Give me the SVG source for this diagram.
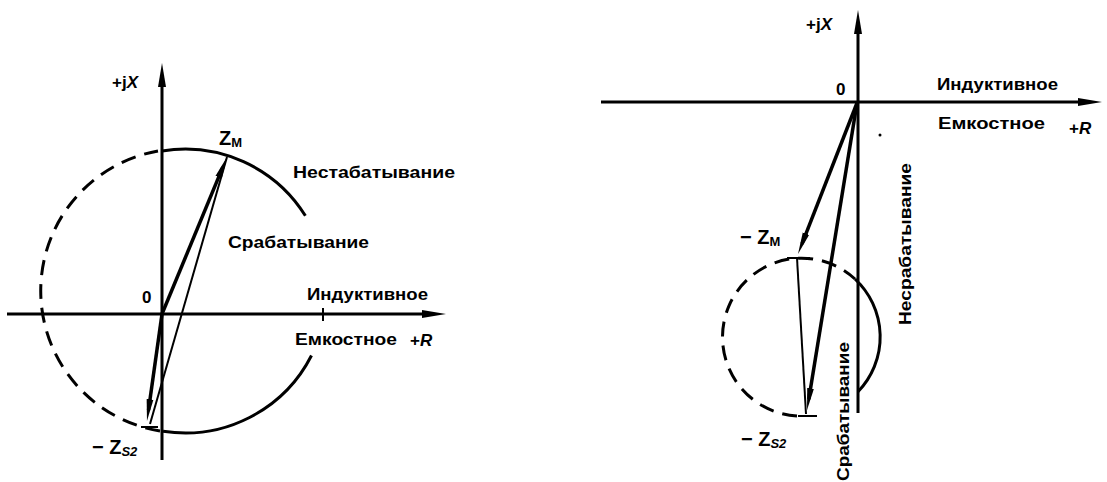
<svg xmlns="http://www.w3.org/2000/svg" width="1107" height="482" viewBox="0 0 1107 482">
<style>
.ax{stroke:#000;stroke-width:3;fill:none}
.vec{stroke:#000;stroke-width:3.5;fill:none}
.thin{stroke:#000;stroke-width:2;fill:none}
.arc{stroke:#000;stroke-width:3;fill:none}
.dash{stroke:#000;stroke-width:3;fill:none;stroke-dasharray:15 9}
.t{font-family:"Liberation Sans",Arial,sans-serif;font-weight:bold;font-size:17px;fill:#000}
.n{font-family:"Liberation Sans",Arial,sans-serif;font-weight:bold;font-size:17px;fill:#000}
.z{font-family:"Liberation Sans",Arial,sans-serif;font-weight:bold;font-size:20px;fill:#000}
.s{font-family:"Liberation Sans",Arial,sans-serif;font-weight:bold;font-size:13px;fill:#000}
</style>
<defs>
<marker id="ah" viewBox="0 0 22 8" markerWidth="22" markerHeight="8" refX="11" refY="4" orient="auto" markerUnits="userSpaceOnUse"><path d="M0,0.6 L22,4 L0,7.4 z" fill="#000"/></marker>
<marker id="axh" viewBox="0 0 24 9" markerWidth="24" markerHeight="9" refX="12" refY="4.5" orient="auto" markerUnits="userSpaceOnUse"><path d="M0,0.5 L24,4.5 L0,8.5 z" fill="#000"/></marker>
</defs>
<rect width="1107" height="482" fill="#fff"/>

<g id="left">
<g id="left-axes">
<line class="ax" x1="162" y1="460" x2="162" y2="75" marker-end="url(#axh)"/>
<line class="ax" x1="7" y1="314" x2="434" y2="314" marker-end="url(#axh)"/>
<line class="thin" x1="323" y1="308" x2="323" y2="321"/>
</g>
<g id="left-circle">
<path class="arc" d="M162,151 A142,142 0 0 1 305.4,215.8"/>
<path class="arc" d="M311.5,355.5 A142,142 0 0 1 163,431.3"/>
<path class="dash" d="M160,431 A142,142 0 0 1 158,151"/>
</g>
<g id="left-connectors">
<line class="vec" x1="162" y1="314" x2="222.8" y2="167.1" marker-end="url(#ah)"/>
<line class="vec" x1="162" y1="314" x2="148.5" y2="410.1" marker-end="url(#ah)"/>
<line class="thin" x1="227" y1="157" x2="150" y2="424"/>
<line class="thin" x1="141" y1="427" x2="158" y2="427"/>
</g>
<g id="left-labels">
<text class="n" x="112" y="88">+j<tspan font-style="italic">X</tspan></text>
<text class="z" x="219" y="145">Z<tspan class="s" dy="2">М</tspan></text>
<text class="t" x="293" y="178" textLength="162" lengthAdjust="spacingAndGlyphs">Нестабатывание</text>
<text class="t" x="228" y="248" textLength="141" lengthAdjust="spacingAndGlyphs">Срабатывание</text>
<text class="n" x="142" y="303">0</text>
<text class="t" x="307" y="300" textLength="121" lengthAdjust="spacingAndGlyphs">Индуктивное</text>
<text class="t" x="295" y="345" textLength="102" lengthAdjust="spacingAndGlyphs">Емкостное</text>
<text class="n" x="410" y="346">+<tspan font-style="italic">R</tspan></text>
<text class="z" x="92" y="454">− Z<tspan class="s" font-style="italic" dy="2">S2</tspan></text>
</g>
</g>

<g id="right">
<g id="right-axes">
<line class="ax" x1="858" y1="413" x2="858" y2="22" marker-end="url(#axh)"/>
<line class="ax" x1="601" y1="102" x2="1090" y2="102" marker-end="url(#axh)"/>
<circle cx="880" cy="135" r="1.5" fill="#000"/>
</g>
<g id="right-circle">
<path class="arc" d="M855,279 A79,79 0 0 1 858,391.7"/>
<path class="dash" d="M797,416 A79,79 0 1 1 855,279"/>
</g>
<g id="right-connectors">
<line class="vec" x1="857" y1="103" x2="802" y2="243.8" marker-end="url(#ah)"/>
<line class="vec" x1="857" y1="103" x2="808.8" y2="399.1" marker-end="url(#ah)"/>
<line class="thin" x1="797" y1="258" x2="806" y2="414"/>
<line class="thin" x1="787" y1="258" x2="810" y2="258"/>
<line class="thin" x1="798" y1="416" x2="817" y2="416"/>
</g>
<g id="right-labels">
<text class="n" x="806" y="30">+j<tspan font-style="italic">X</tspan></text>
<text class="n" x="836" y="95">0</text>
<text class="t" x="937" y="90" textLength="121" lengthAdjust="spacingAndGlyphs">Индуктивное</text>
<text class="t" x="938" y="129" textLength="107" lengthAdjust="spacingAndGlyphs">Емкостное</text>
<text class="n" x="1069" y="134">+<tspan font-style="italic">R</tspan></text>
<text class="z" x="740" y="244">− Z<tspan class="s" dy="2">М</tspan></text>
<text class="z" x="741" y="446">− Z<tspan class="s" font-style="italic" dy="2">S2</tspan></text>
<text class="t" transform="translate(911,325) rotate(-90)" textLength="162" lengthAdjust="spacingAndGlyphs">Несрабатывание</text>
<text class="t" transform="translate(849,481) rotate(-90)" textLength="139" lengthAdjust="spacingAndGlyphs">Срабатывание</text>
</g>
</g>
</svg>
